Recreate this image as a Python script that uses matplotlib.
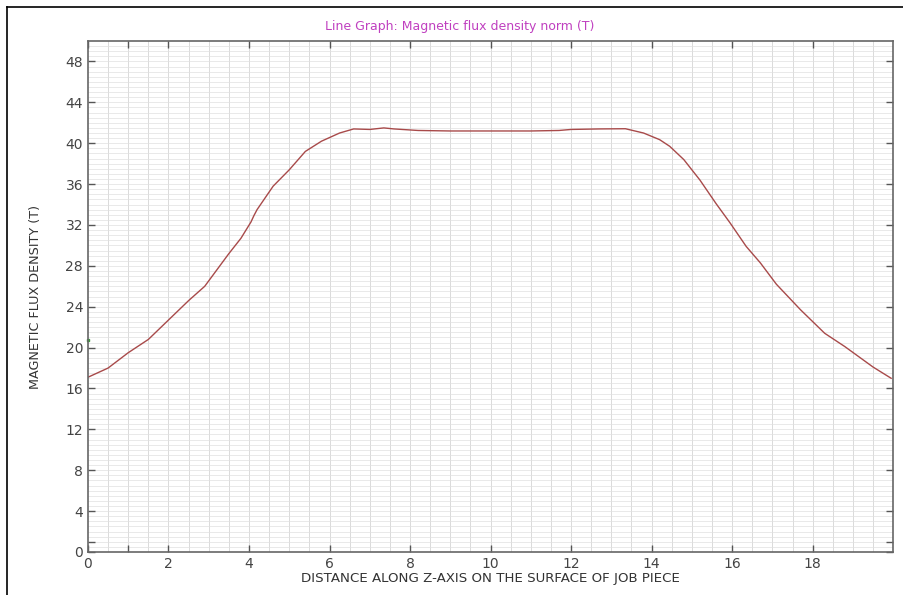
import numpy as np
import matplotlib
matplotlib.use('Agg')
import matplotlib.pyplot as plt
from matplotlib.lines import Line2D
from matplotlib.ticker import FixedLocator

# distance along z-axis and flux density
distance = [0.0, 0.5, 1.0, 1.5, 2.0, 2.5, 2.9, 3.5, 3.8, 4.05, 4.12, 4.2, 4.6,
            5.0, 5.4, 5.8, 6.25, 6.6, 7.0, 7.35, 7.6, 8.2, 9.0, 10.0, 11.0,
            11.7, 12.0, 12.7, 13.35, 13.8, 14.2, 14.45, 14.8, 15.2, 15.6,
            15.95, 16.35, 16.7, 17.1, 17.7, 18.3, 18.8, 19.5, 19.95]
flux = [17.1, 18.0, 19.5, 20.8, 22.7, 24.6, 26.0, 29.2, 30.7, 32.3, 32.9, 33.5,
        35.8, 37.4, 39.2, 40.2, 41.0, 41.4, 41.35, 41.5, 41.4, 41.25, 41.2,
        41.2, 41.2, 41.25, 41.35, 41.4, 41.42, 41.0, 40.35, 39.7, 38.4, 36.4,
        34.1, 32.2, 29.9, 28.3, 26.2, 23.7, 21.4, 20.1, 18.1, 17.0]

x_ticks = [0, 2, 4, 6, 8, 10, 12, 14, 16, 18]
y_ticks = [0, 4, 8, 12, 16, 20, 24, 28, 32, 36, 40, 44, 48]
marker_pt = (0.0, 20.7)

fig = plt.figure(figsize=(9.04, 5.95), dpi=100)
ax = fig.add_axes([0.0973, 0.0723, 0.8907, 0.8587])

ax.plot(distance, flux, color='#a84a4a', lw=1.0)
ax.plot([marker_pt[0]], [marker_pt[1]], 's', ms=2, color='#3a9a3a', clip_on=False)

ax.set_xlim(0, 20)
ax.set_ylim(0, 50)

ax.xaxis.set_major_locator(FixedLocator(x_ticks))
ax.yaxis.set_major_locator(FixedLocator(y_ticks))
ax.xaxis.set_minor_locator(FixedLocator([1]))
ax.yaxis.set_minor_locator(FixedLocator([1]))

# light grid every 0.5
for v in np.arange(0.5, 20, 0.5):
    ax.axvline(v, color='#d4d4d4', lw=0.6, zorder=0)
for h in np.arange(0.5, 50, 0.5):
    ax.axhline(h, color='#e0e0e0', lw=0.5, zorder=0)

ax.tick_params(which='both', direction='in', top=True, right=True,
               colors='#555555', width=1.0, labelcolor='#444444', labelsize=10)
ax.tick_params(which='major', length=5)
ax.tick_params(which='minor', length=5)
for s in ax.spines.values():
    s.set_color('#666666')
    s.set_linewidth(1.2)

ax.set_xlabel('DISTANCE ALONG Z-AXIS ON THE SURFACE OF JOB PIECE',
              fontsize=9.6, color='#333333', labelpad=1)
ax.set_ylabel('MAGNETIC FLUX DENSITY (T)', fontsize=9.2, color='#333333', labelpad=17)
ax.set_title('Line Graph: Magnetic flux density norm (T)', fontsize=9,
             color='#c040c0', pad=8, x=0.462)

# picture frame on left and top
fig.add_artist(Line2D([7/904, 7/904], [0, 1 - 7/595], color='black', lw=1.2))
fig.add_artist(Line2D([7/904, 1], [1 - 7/595, 1 - 7/595], color='black', lw=1.2))

fig.savefig('out.png', dpi=100, facecolor='white')
